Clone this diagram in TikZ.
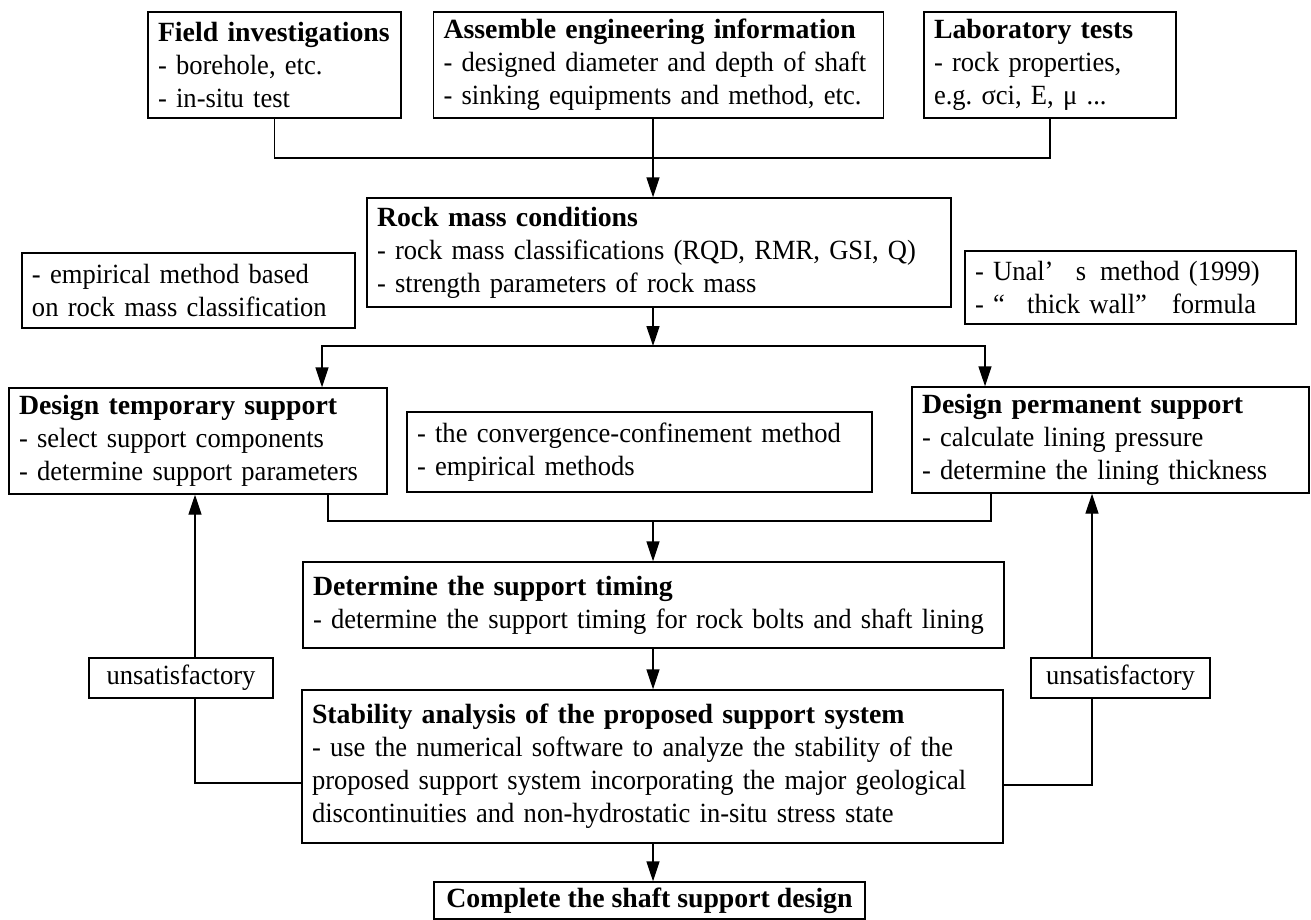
\documentclass[tikz,border=0pt]{standalone}
\usepackage{fontspec}
\setmainfont{Liberation Serif}[UprightFeatures={FakeStretch=0.955}]
\usetikzlibrary{arrows.meta}
\begin{document}
\begin{tikzpicture}[x=.5pt,y=-.5pt,line width=.7pt,
 every node/.style={font=\fontsize{13.9pt}{16.5pt}\selectfont},
 box/.style={draw,align=left,inner xsep=5pt,inner ysep=1pt},
 arr/.style={-{Triangle[length=10pt,width=6.5pt]}}]
\useasboundingbox (0,0) rectangle (1311,920);
% top row
\node[box,text width=116.5pt,minimum height=53pt] (field) at (274.5,65) {\textbf{Field investigations}\\- borehole, etc.\\- in-situ test};
\node[box,text width=215pt,minimum height=53pt] (asm) at (658.5,65) {\textbf{Assemble engineering information}\\- designed diameter and depth of shaft\\- sinking equipments and method, etc.};
\node[box,text width=116pt,minimum height=53pt] (lab) at (1050,65) {\textbf{Laboratory tests}\\- rock properties,\\e.g.\ σci, E, μ ...};
\node[box,text width=282pt,minimum height=54.5pt] (rock) at (659,252.5) {\textbf{Rock mass conditions}\\- rock mass classifications (RQD, RMR, GSI, Q)\\- strength parameters of rock mass};
\node[box,text width=156.5pt,minimum height=37.5pt] (emp) at (188.5,290.5) {- empirical method based\\on rock mass classification};
\node[box,text width=155.5pt,minimum height=36.5pt] (unal) at (1130.5,287.5) {- Unal’\hspace{.8em}s\hspace{.5em}method (1999)\\- “\hspace{.8em}thick wall”\hspace{.9em}formula};
% design row
\node[box,text width=179pt,minimum height=53pt] (temp) at (198,441) {\textbf{Design temporary support}\\- select support components\\- determine support parameters};
\node[box,text width=222.5pt,minimum height=40pt] (conv) at (639.5,452) {- the convergence-confinement method\\- empirical methods};
\node[box,text width=188.5pt,minimum height=53pt] (perm) at (1110.5,440) {\textbf{Design permanent support}\\- calculate lining pressure\\- determine the lining thickness};
\node[box,text width=340.5pt,minimum height=43pt] (det) at (653.5,605) {\textbf{Determine the support timing}\\- determine the support timing for rock bolts and shaft lining};
\node[box,text width=340.5pt,minimum height=76.5pt] (stab) at (652.5,766.5) {\textbf{Stability analysis of the proposed support system}\\- use the numerical software to analyze the stability of the\\proposed support system incorporating the major geological\\discontinuities and non-hydrostatic in-situ stress state};
\node[box,align=center,minimum width=215.5pt,minimum height=18.5pt,inner ysep=0pt] (comp) at (649.5,900.5) {\textbf{Complete the shaft support design}};
\node[box,align=center,minimum width=92pt,minimum height=20pt] (unsL) at (181,678) {unsatisfactory};
\node[box,align=center,minimum width=89.5pt,minimum height=20pt] (unsR) at (1120.5,678) {unsatisfactory};
% junctions
\coordinate (j1) at (653,158);\coordinate (j2) at (653,346);\coordinate (j3) at (653,521);
\coordinate (tin) at (322,0);\coordinate (pin) at (985,0);
\coordinate (tout) at (328,0);\coordinate (pout) at (991,0);
\coordinate (lx) at (195,783);\coordinate (rx) at (1092,785);
% connectors
\draw (field.south) |- (j1) -| (lab.south);
\draw[arr] (asm.south -| j1) -- (j1 |- rock.north);
\draw[arr] (rock.south -| j2) -- (j2);
\draw[arr] (j2) -| (tin |- temp.north);\draw[arr] (j2) -| (pin |- perm.north);
\draw (tout |- temp.south) |- (j3) -| (pout |- perm.south);
\draw[arr] (j3) -- (j3 |- det.north);
\draw[arr] (det.south -| j3) -- (j3 |- stab.north);
\draw[arr] (stab.south -| j3) -- (j3 |- comp.north);
\draw (stab.west |- lx) -- (lx) -- (lx |- unsL.south);\draw[arr] (lx |- unsL.north) -- (lx |- temp.south);
\draw (stab.east |- rx) -- (rx) -- (rx |- unsR.south);\draw[arr] (rx |- unsR.north) -- (rx |- perm.south);
\end{tikzpicture}
\end{document}
